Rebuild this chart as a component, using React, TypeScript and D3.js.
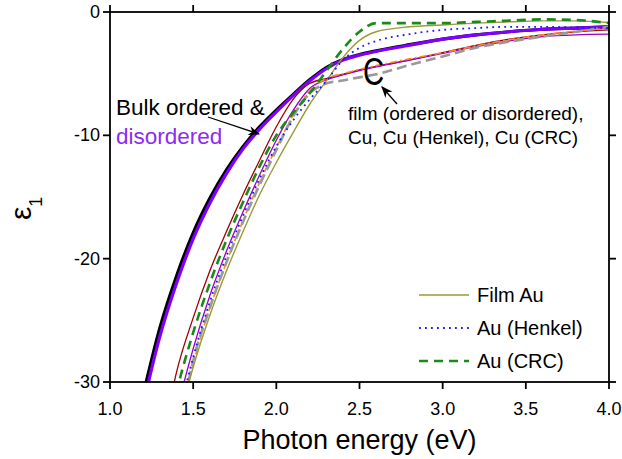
import React from "react";
import * as d3 from "d3";

// photon energy grid (eV)
const energy = [1.2, 1.3, 1.4, 1.5, 1.6, 1.7, 1.8, 1.9, 2.0, 2.1, 2.2, 2.3, 2.4, 2.5, 2.6, 2.8, 3.0, 3.2, 3.4, 3.6, 3.8, 4.0];

// epsilon_1
const bulkOrdered = [-31.0, -25.6, -21.4, -17.9, -15.1, -12.8, -10.9, -9.3, -7.95, -6.7, -5.5, -4.5, -3.85, -3.45, -3.15, -2.65, -2.2, -1.85, -1.6, -1.4, -1.3, -1.2];
const bulkDisordered = [-31.8, -26.3, -22.0, -18.4, -15.5, -13.1, -11.1, -9.5, -8.1, -6.8, -5.6, -4.6, -3.9, -3.5, -3.2, -2.7, -2.2, -1.85, -1.6, -1.4, -1.3, -1.2];
const filmOrdered = [-42, -36, -29.2, -24.8, -21.0, -17.8, -14.8, -12.0, -9.3, -7.1, -5.8, -5.4, -5.05, -4.7, -4.4, -3.9, -3.3, -2.7, -2.2, -1.85, -1.6, -1.45];
const filmDisordered = [-46, -39, -32.5, -27.3, -23.0, -19.4, -16.2, -13.2, -10.4, -8.0, -6.2, -5.5, -5.1, -4.75, -4.45, -3.9, -3.35, -2.8, -2.35, -2.0, -1.85, -1.8];
const cu = [-48, -41, -34, -28.5, -24.0, -20.3, -16.9, -13.8, -11.0, -8.4, -6.4, -5.4, -5.0, -4.65, -4.35, -3.8, -3.3, -2.75, -2.25, -1.85, -1.55, -1.35];
const cuCRC = [-49, -42, -35, -28.3, -24.0, -20.3, -17.0, -14.0, -11.2, -8.5, -6.6, -5.8, -5.55, -5.3, -5.05, -4.3, -3.6, -2.9, -2.4, -2.0, -1.6, -1.2];
const filmAu = [-48, -41, -34, -28.8, -24.6, -21.0, -17.8, -14.8, -12.2, -9.8, -7.5, -5.6, -3.7, -2.3, -1.6, -1.2, -1.05, -0.9, -0.8, -0.72, -0.72, -0.85];
const auHenkel = [-47, -40, -33.5, -28.0, -23.5, -19.8, -16.5, -13.5, -10.9, -8.8, -7.1, -5.6, -3.9, -2.9, -2.35, -1.8, -1.45, -1.3, -1.2, -1.2, -1.25, -1.3];
const auCRC = [-44, -37, -30.8, -26.0, -22.0, -18.5, -15.4, -12.5, -10.0, -8.2, -6.6, -4.8, -3.0, -1.6, -0.9, -0.9, -0.9, -0.8, -0.7, -0.6, -0.65, -0.9];

const xTicks = [1.0, 1.5, 2.0, 2.5, 3.0, 3.5, 4.0];
const yTicks = [0, -10, -20, -30];
const legendNames = ["Film Au", "Au (Henkel)", "Au (CRC)"];

const series = [
  { name: "bulk ordered", values: bulkOrdered, color: "#000", width: 3.2, dash: null },
  { name: "bulk disordered", values: bulkDisordered, color: "#8000ff", width: 3.2, dash: null },
  { name: "film ordered", values: filmOrdered, color: "#a00000", width: 1.3, dash: null },
  { name: "film disordered", values: filmDisordered, color: "#9a00c8", width: 1.3, dash: null },
  { name: "Cu", values: cu, color: "#ff8a1c", width: 1.6, dash: "7,3,2,3" },
  { name: "Cu (CRC)", values: cuCRC, color: "#999", width: 2.6, dash: "10,5" },
  { name: "Film Au", values: filmAu, color: "#9c9a3a", width: 1.4, dash: null },
  { name: "Au (Henkel)", values: auHenkel, color: "#1a1aff", width: 1.8, dash: "1.8,4.2" },
  { name: "Au (CRC)", values: auCRC, color: "#1a8a1a", width: 2.6, dash: "9,6" },
];

const font = "'Liberation Sans', Arial, sans-serif";

export default function App() {
  const W = 622, H = 459;
  const left = 110, right = 609, top = 12, bottom = 382;
  const x = d3.scaleLinear().domain([1, 4]).range([left, right]);
  const y = d3.scaleLinear().domain([-30, 0]).range([bottom, top]);

  const line = d3.line<number>()
    .x((_, i) => x(energy[i]))
    .y(d => y(d))
    .curve(d3.curveMonotoneX);

  const legendStyle = legendNames.map(n => series.find(s => s.name === n)!);

  return (
    <svg width={W} height={H} style={{ position: "absolute", left: 0, top: 0, background: "#fff" }} fontFamily={font}>
      <defs>
        <clipPath id="plot">
          <rect x={left} y={top} width={right - left} height={bottom - top} />
        </clipPath>
        <marker id="arr" viewBox="0 0 10 10" refX="9" refY="5" markerWidth="9" markerHeight="9" orient="auto">
          <path d="M0,1 L10,5 L0,9 L3,5 Z" fill="#000" />
        </marker>
      </defs>

      <g clipPath="url(#plot)">
        {series.map(s => (
          <path key={s.name} d={line(s.values) || ""} fill="none" stroke={s.color}
            strokeWidth={s.width} strokeDasharray={s.dash || undefined} />
        ))}
      </g>

      {/* frame */}
      <rect x={left} y={top} width={right - left} height={bottom - top} fill="none" stroke="#000" strokeWidth={1.8} />
      {xTicks.map(t => (
        <g key={"x" + t}>
          <line x1={x(t)} x2={x(t)} y1={bottom} y2={bottom + 7} stroke="#000" strokeWidth={1.8} />
          <line x1={x(t)} x2={x(t)} y1={top} y2={top - 7} stroke="#000" strokeWidth={1.8} />
          <text x={x(t)} y={bottom + 33} textAnchor="middle" fontSize={18}>{t.toFixed(1)}</text>
        </g>
      ))}
      {yTicks.map(t => (
        <g key={"y" + t}>
          <line x1={left} x2={left - 7} y1={y(t)} y2={y(t)} stroke="#000" strokeWidth={1.8} />
          <line x1={right} x2={right + 7} y1={y(t)} y2={y(t)} stroke="#000" strokeWidth={1.8} />
          <text x={left - 10} y={y(t) + 6} textAnchor="end" fontSize={18}>{t}</text>
        </g>
      ))}

      <text x={(left + right) / 2} y={449} textAnchor="middle" fontSize={27}>Photon energy (eV)</text>
      <text transform="translate(31,220) rotate(-90)" fontSize={30}>
        ε<tspan fontSize={18} dy={11}>1</tspan>
      </text>

      {/* annotations */}
      <text x={116} y={115} fontSize={22.5}>Bulk ordered &amp;</text>
      <text x={116} y={144} fontSize={22.5} fill="#8c2cf0">disordered</text>
      <line x1={208} y1={117} x2={259} y2={134} stroke="#000" strokeWidth={1.3} markerEnd="url(#arr)" />

      <text transform="translate(363,85) scale(0.75,1)" fontSize={39}>C</text>
      <line x1={397} y1={104} x2={382} y2={87} stroke="#000" strokeWidth={1.3} markerEnd="url(#arr)" />
      <text x={348} y={120} fontSize={19}>film (ordered or disordered),</text>
      <text x={348} y={144} fontSize={19}>Cu, Cu (Henkel), Cu (CRC)</text>

      {/* legend */}
      {legendStyle.map((s, i) => (
        <g key={s.name} transform={`translate(0,${295 + i * 33})`}>
          <line x1={419} x2={469} y1={0} y2={0} stroke={s.color} strokeWidth={s.width}
            strokeDasharray={s.dash || undefined} />
          <text x={477} y={7} fontSize={20}>{s.name}</text>
        </g>
      ))}
    </svg>
  );
}
